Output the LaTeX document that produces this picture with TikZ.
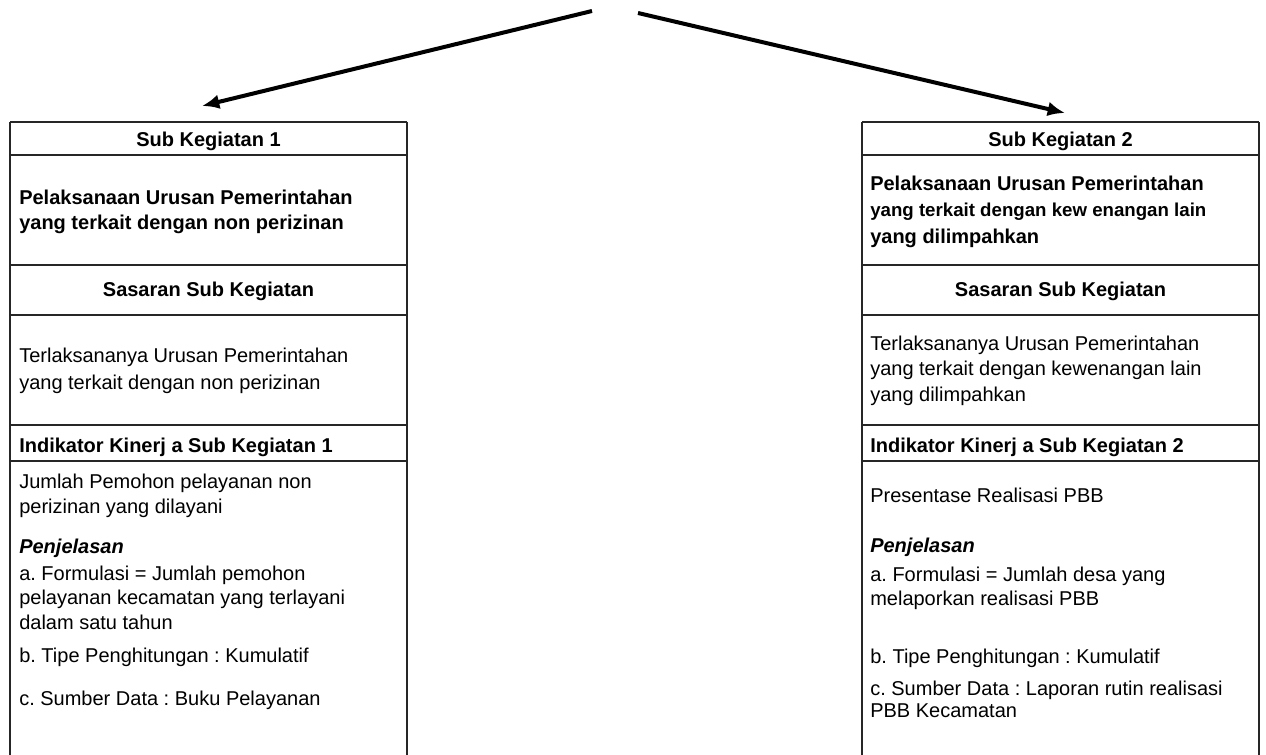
\documentclass[tikz,border=0pt]{standalone}
\usepackage{fontspec}
\setmainfont{Liberation Sans}
\usetikzlibrary{arrows.meta}
\frenchspacing
\tikzset{
  px/.style={x=0.75pt,y=-0.75pt},
  rowline/.style={line width=1.3pt,draw=black!85},
  arr/.style={line width=3pt,-{Latex[length=13pt,width=11pt]}},
  txt/.style={anchor=base west,inner sep=0pt,font=\fontsize{15pt}{18pt}\selectfont},
  btxt/.style={txt,font=\fontsize{15pt}{18pt}\selectfont\bfseries},
  bsmall/.style={txt,font=\fontsize{14pt}{17pt}\selectfont\bfseries},
  itxt/.style={txt,font=\fontsize{15pt}{18pt}\selectfont\bfseries\itshape},
  head/.style={anchor=base,inner sep=0pt,font=\fontsize{15pt}{18pt}\selectfont\bfseries}
}
\begin{document}
\begin{tikzpicture}[px]
\useasboundingbox (0,0) rectangle (1266,755);
% arrows
\coordinate (ls) at (592,11);
\coordinate (lt) at (202,106);
\coordinate (rs) at (638,13);
\coordinate (rt) at (1065,113);
\draw[arr] (ls) -- (lt);
\draw[arr] (rs) -- (rt);
% left frame
\foreach \yy in {122,155,265,315,425,461} \draw[rowline] (10,\yy) -- (407,\yy);
\draw[rowline] (10,122) -- (10,755);
\draw[rowline] (407,122) -- (407,755);
% right frame
\foreach \yy in {122,155,265,315,425,461} \draw[rowline] (862,\yy) -- (1259,\yy);
\draw[rowline] (862,122) -- (862,755);
\draw[rowline] (1259,122) -- (1259,755);
% left texts
\node[head] (l1) at (208.5,147) {Sub Kegiatan 1};
\node[btxt] (l2a) at (19,205) {Pelaksanaan Urusan Pemerintahan};
\node[btxt] (l2b) at (19,230) {yang terkait dengan non perizinan};
\node[head] (l3) at (208.5,297) {Sasaran Sub Kegiatan};
\node[txt] (l4a) at (19,363) {Terlaksananya Urusan Pemerintahan};
\node[txt] (l4b) at (19,389) {yang terkait dengan non perizinan};
\node[btxt] (l5) at (19,452) {Indikator Kinerj a Sub Kegiatan 1};
\node[txt] (l6a) at (19,488) {Jumlah Pemohon pelayanan non};
\node[txt] (l6b) at (19,513) {perizinan yang dilayani};
\node[itxt] (l7) at (19,553) {Penjelasan};
\node[txt] (l8a) at (19,580) {a. Formulasi = Jumlah pemohon};
\node[txt] (l8b) at (19,604) {pelayanan kecamatan yang terlayani};
\node[txt] (l8c) at (19,629) {dalam satu tahun};
\node[txt] (l9) at (19,662) {b. Tipe Penghitungan : Kumulatif};
\node[txt] (l10) at (19,705) {c. Sumber Data : Buku Pelayanan};
% right texts
\node[head] (r1) at (1060.5,147) {Sub Kegiatan 2};
\node[btxt] (r2a) at (870,191) {Pelaksanaan Urusan Pemerintahan};
\node[bsmall] (r2b) at (870,217) {yang terkait dengan kew enangan lain};
\node[btxt] (r2c) at (870,244) {yang dilimpahkan};
\node[head] (r3) at (1060.5,297) {Sasaran Sub Kegiatan};
\node[txt] (r4a) at (870,350) {Terlaksananya Urusan Pemerintahan};
\node[txt] (r4b) at (870,375) {yang terkait dengan kewenangan lain};
\node[txt] (r4c) at (870,401) {yang dilimpahkan};
\node[btxt] (r5) at (870,452) {Indikator Kinerj a Sub Kegiatan 2};
\node[txt] (r6) at (870,502) {Presentase Realisasi PBB};
\node[itxt] (r7) at (870,552) {Penjelasan};
\node[txt] (r8a) at (870,581) {a. Formulasi = Jumlah desa yang};
\node[txt] (r8b) at (870,605) {melaporkan realisasi PBB};
\node[txt] (r9) at (870,663) {b. Tipe Penghitungan : Kumulatif};
\node[txt] (r10a) at (870,695) {c. Sumber Data : Laporan rutin realisasi};
\node[txt] (r10b) at (870,717) {PBB Kecamatan};
\end{tikzpicture}
\end{document}
